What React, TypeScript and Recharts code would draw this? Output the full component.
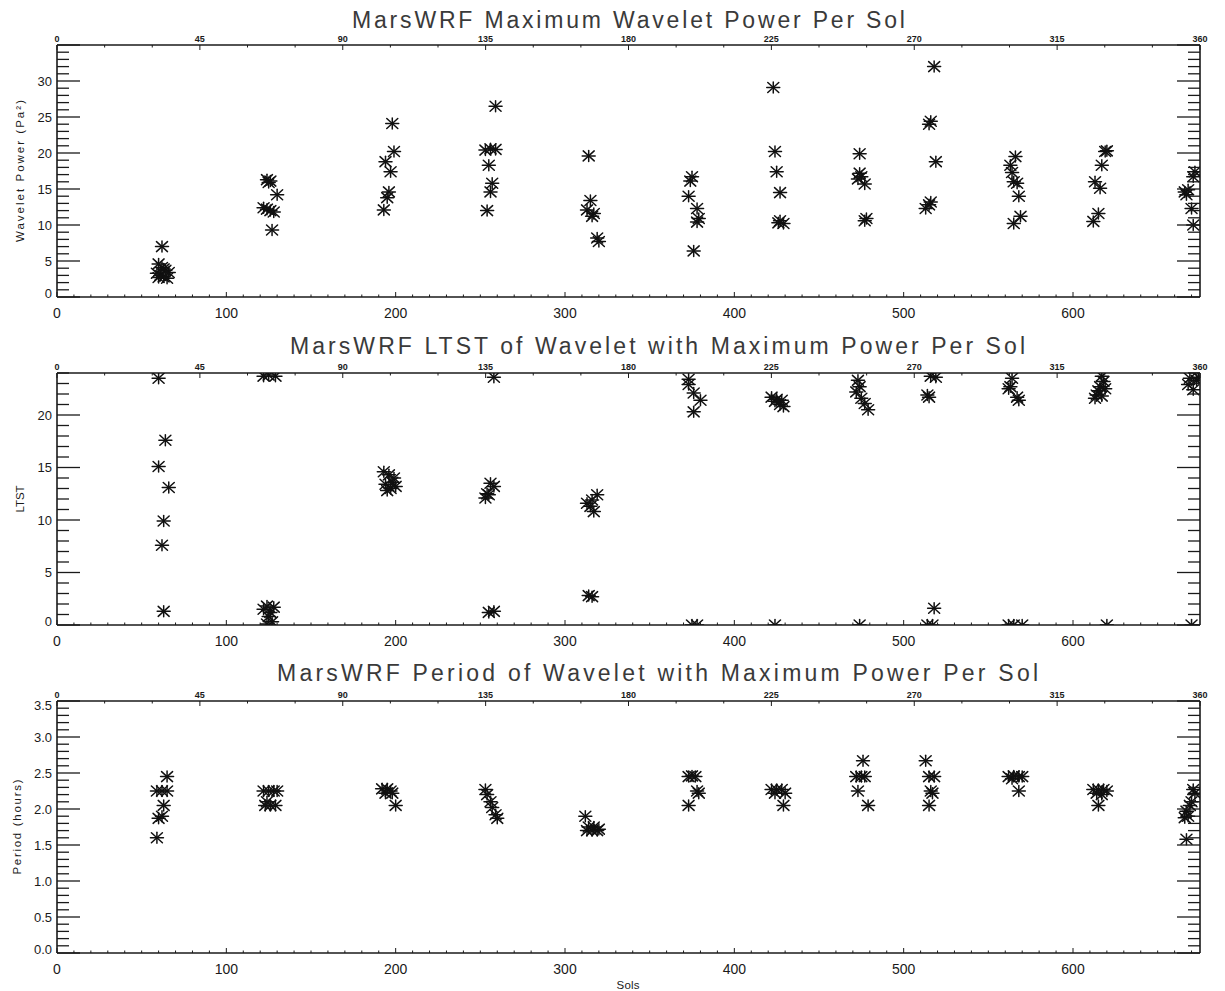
import React from 'react'
import { ScatterChart, Scatter, XAxis, YAxis } from 'recharts'

// Sol axis (bottom) and solar longitude axis (top)
const SOL_MAX = 675
const SOL_MAJOR = [0, 100, 200, 300, 400, 500, 600]
const LS_MAJOR = [0, 45, 90, 135, 180, 225, 270, 315, 360]

// [sol, maximum wavelet power (Pa^2)]
const powerPoints: [number, number][] = [
    [62, 7.0], [60, 4.6], [62, 4.1], [64, 3.7], [59, 3.3], [61, 3.0], [63, 2.8], [65, 2.6], [60, 2.7], [66, 3.4], [63, 3.9],
    [124, 16.3], [125, 15.9], [126, 16.1], [130, 14.2], [122, 12.4], [126, 12.0], [128, 11.8], [124, 12.2], [127, 9.3],
    [198, 24.1], [199, 20.2], [194, 18.8], [197, 17.4], [196, 14.6], [195, 13.8], [193, 12.1],
    [259, 26.5], [253, 20.4], [256, 20.6], [259, 20.5], [255, 18.3], [257, 15.8], [256, 14.6], [254, 12.0],
    [314, 19.6], [315, 13.4], [313, 12.1], [317, 11.6], [316, 11.2], [319, 8.2], [320, 7.7],
    [375, 16.7], [374, 16.1], [373, 14.0], [378, 12.3], [379, 10.9], [378, 10.4], [376, 6.4],
    [423, 29.1], [424, 20.2], [425, 17.4], [427, 14.5], [427, 10.6], [429, 10.2], [426, 10.3],
    [474, 19.9], [474, 17.2], [473, 16.4], [475, 16.7], [477, 15.7], [478, 10.9], [477, 10.6],
    [518, 32.0], [516, 24.4], [515, 24.0], [519, 18.8], [515, 12.8], [513, 12.3], [516, 13.2],
    [566, 19.5], [563, 18.3], [564, 17.3], [565, 16.0], [567, 15.8], [568, 14.0], [569, 11.2], [565, 10.2],
    [619, 20.2], [620, 20.3], [617, 18.3], [613, 16.0], [616, 15.1], [615, 11.6], [612, 10.5],
    [672, 17.4], [671, 16.7], [668, 14.9], [667, 14.2], [666, 14.6], [670, 12.3], [671, 10.0],
]

// [sol, local true solar time of the strongest wavelet]
const ltstPoints: [number, number][] = [
    [60, 23.5], [64, 17.6], [60, 15.1], [66, 13.1], [63, 9.9], [62, 7.6], [63, 1.3],
    [122, 23.7], [125, 23.8], [129, 23.7], [122, 1.5], [124, 1.8], [126, 1.2], [128, 1.7], [125, 0.8], [127, 0.3], [124, 0.1],
    [193, 14.6], [196, 14.3], [199, 14.0], [194, 13.4], [197, 13.0], [200, 13.2], [195, 12.8], [198, 13.6],
    [258, 23.6], [256, 13.5], [254, 12.5], [253, 12.1], [255, 12.4], [258, 13.2], [258, 1.3], [255, 1.2],
    [319, 12.4], [313, 11.6], [315, 11.3], [317, 10.8], [316, 11.9], [316, 2.7], [314, 2.8],
    [373, 22.9], [376, 22.1], [380, 21.4], [376, 20.3], [373, 23.4], [375, 0.0], [378, 0.0],
    [422, 21.7], [425, 21.5], [427, 21.0], [429, 20.8], [424, 21.3], [428, 21.4], [424, 0.0],
    [473, 23.3], [474, 22.7], [472, 22.2], [475, 21.6], [477, 21.1], [479, 20.5], [474, 0.0],
    [516, 23.7], [519, 23.6], [514, 21.9], [515, 21.7], [518, 1.6], [517, 0.0], [514, 0.0],
    [564, 23.5], [563, 22.7], [562, 22.5], [567, 21.7], [568, 21.4], [565, 0.0], [570, 0.0], [562, 0.0],
    [617, 23.7], [618, 23.2], [616, 22.7], [615, 22.3], [614, 21.9], [613, 21.6], [617, 21.8], [619, 22.5], [620, 0.0],
    [669, 23.5], [673, 23.3], [671, 22.4], [674, 23.6], [668, 22.9], [670, 0.0],
]

// [sol, period (hours) of the strongest wavelet]
const periodPoints: [number, number][] = [
    [65, 2.45], [59, 2.25], [62, 2.25], [65, 2.25], [63, 2.05], [62, 1.9], [60, 1.87], [59, 1.6],
    [122, 2.25], [125, 2.25], [128, 2.25], [130, 2.25], [123, 2.05], [126, 2.05], [129, 2.05], [124, 2.1],
    [192, 2.28], [195, 2.28], [197, 2.25], [194, 2.22], [198, 2.22], [200, 2.05],
    [253, 2.27], [254, 2.2], [256, 2.1], [257, 2.02], [259, 1.92], [260, 1.87],
    [312, 1.9], [314, 1.75], [317, 1.75], [320, 1.72], [313, 1.7], [316, 1.7], [319, 1.7],
    [373, 2.45], [375, 2.46], [377, 2.45], [378, 2.25], [379, 2.22], [373, 2.05],
    [422, 2.27], [425, 2.27], [428, 2.27], [430, 2.22], [424, 2.22], [429, 2.05],
    [476, 2.67], [472, 2.45], [475, 2.45], [477, 2.45], [473, 2.25], [479, 2.05],
    [513, 2.67], [515, 2.45], [518, 2.45], [516, 2.25], [517, 2.22], [515, 2.05],
    [562, 2.45], [565, 2.46], [568, 2.45], [570, 2.45], [564, 2.42], [568, 2.25],
    [612, 2.27], [615, 2.27], [618, 2.27], [620, 2.25], [614, 2.22], [617, 2.2], [615, 2.05],
    [671, 2.27], [672, 2.22], [670, 2.1], [667, 1.97], [668, 1.9], [666, 1.88], [669, 2.05], [667, 1.58],
]

const POWER_LABELS = [0, 5, 10, 15, 20, 25, 30]
const LTST_LABELS = [0, 5, 10, 15, 20]
const PERIOD_LABELS = [0, 0.5, 1, 1.5, 2, 2.5, 3, 3.5]

const INK = '#1a1a1a'
const FONT = '"Liberation Sans", Arial, sans-serif'
const PLOT_TOP = 45
const PLOT_BOTTOM = 297

const steps = (max: number, step: number) => {
    const out: number[] = []
    for (let i = 0; i * step <= max + 1e-9; i++) out.push(+(i * step).toFixed(4))
    return out
}
const isMultiple = (v: number, m: number) => Math.abs(v / m - Math.round(v / m)) < 1e-6

const solTicks = steps(SOL_MAX, 10)
const lsTicks = steps(360, 15)
// the Ls axis carries no marks of its own; its two end points anchor the top/right axes
const lsFrame = [{ ls: 0, r: 0 }, { ls: 360, r: 0 }]

// IDL-style asterisk symbol
const Asterisk = (props: any) => {
    const { cx, cy } = props
    if (cx == null || cy == null) return null
    return (
        <g stroke="#111" strokeWidth={1.5} strokeLinecap="round">
            <line x1={cx - 6.5} y1={cy} x2={cx + 6.5} y2={cy} />
            <line x1={cx} y1={cy - 5.5} x2={cx} y2={cy + 5.5} />
            <line x1={cx - 5.5} y1={cy - 5} x2={cx + 5.5} y2={cy + 5} />
            <line x1={cx - 5.5} y1={cy + 5} x2={cx + 5.5} y2={cy - 5} />
        </g>
    )
}
const NoMark = () => <g />

interface PanelProps {
    title: string
    titleX: number
    titleLen: number
    titleY: number
    yLabel: string
    yLabelLen: number
    yLabelX: number
    points: [number, number][]
    yMax: number
    yMinor: number
    yMajor: number
    yLabels: number[]
    decimals: number
    height: number
    xLabel?: string
}

function Panel({ title, titleX, titleLen, titleY, yLabel, yLabelLen, yLabelX, points, yMax, yMinor, yMajor, yLabels, decimals, height, xLabel }: PanelProps) {
    const data = points.map(([sol, v]) => ({ sol, v }))
    const yTicks = steps(yMax, yMinor)
    const axisLine = { stroke: INK, strokeWidth: 1.6 }

    const bottomTick = (p: any) => {
        const major = SOL_MAJOR.includes(p.payload.value)
        return (
            <g>
                <line x1={p.x} x2={p.x} y1={p.y} y2={p.y - (major ? 5 : 2.5)} stroke={INK} strokeWidth={1} />
                {major && (
                    <text x={p.x} y={p.y + 21} textAnchor="middle" fontSize={14} fontFamily={FONT} fill={INK}>
                        {p.payload.value}
                    </text>
                )}
            </g>
        )
    }

    const topTick = (p: any) => {
        const major = LS_MAJOR.includes(p.payload.value)
        return (
            <g>
                <line x1={p.x} x2={p.x} y1={p.y} y2={p.y + (major ? 5 : 2.5)} stroke={INK} strokeWidth={1} />
                {major && (
                    <text x={p.x} y={p.y - 3} textAnchor="middle" fontSize={9} fontWeight="bold" fontFamily={FONT} fill={INK}>
                        {p.payload.value}
                    </text>
                )}
            </g>
        )
    }

    const leftTick = (p: any) => {
        const v = p.payload.value
        const major = isMultiple(v, yMajor)
        const labelled = yLabels.some((l) => Math.abs(l - v) < 1e-6)
        const nudge = v === 0 ? -3.5 : Math.abs(v - yMax) < 1e-6 ? 4.5 : 0
        return (
            <g>
                <line x1={p.x} x2={p.x + (major ? 23 : 12)} y1={p.y} y2={p.y} stroke={INK} strokeWidth={1.3} />
                {labelled && (
                    <text x={p.x - 5} y={p.y + nudge} dy="0.36em" textAnchor="end" fontSize={13} fontFamily={FONT} fill={INK}>
                        {v.toFixed(decimals)}
                    </text>
                )}
            </g>
        )
    }

    const rightTick = (p: any) => {
        const major = isMultiple(p.payload.value, yMajor)
        return <line x1={p.x} x2={p.x - (major ? 23 : 12)} y1={p.y} y2={p.y} stroke={INK} strokeWidth={1.3} />
    }

    const plotMid = (PLOT_TOP + PLOT_BOTTOM) / 2

    return (
        <ScatterChart width={1225} height={height} margin={{ top: 0, right: 0, bottom: 0, left: 0 }}>
            <XAxis
                xAxisId="sol"
                dataKey="sol"
                type="number"
                domain={[0, SOL_MAX]}
                ticks={solTicks}
                interval={0}
                tickSize={0}
                tickMargin={0}
                tickLine={false}
                height={height - PLOT_BOTTOM}
                axisLine={axisLine}
                tick={bottomTick}
                allowDataOverflow
            />
            <XAxis
                xAxisId="ls"
                dataKey="ls"
                orientation="top"
                type="number"
                domain={[0, 360]}
                ticks={lsTicks}
                interval={0}
                tickSize={0}
                tickMargin={0}
                tickLine={false}
                height={PLOT_TOP}
                axisLine={axisLine}
                tick={topTick}
                allowDataOverflow
            />
            <YAxis
                yAxisId="left"
                dataKey="v"
                type="number"
                domain={[0, yMax]}
                ticks={yTicks}
                interval={0}
                tickSize={0}
                tickMargin={0}
                tickLine={false}
                width={57}
                axisLine={axisLine}
                tick={leftTick}
                allowDataOverflow
            />
            <YAxis
                yAxisId="right"
                dataKey="r"
                orientation="right"
                type="number"
                domain={[0, yMax]}
                ticks={yTicks}
                interval={0}
                tickSize={0}
                tickMargin={0}
                tickLine={false}
                width={25}
                axisLine={axisLine}
                tick={rightTick}
                allowDataOverflow
            />
            <Scatter xAxisId="sol" yAxisId="left" data={data} shape={Asterisk} isAnimationActive={false} />
            <Scatter xAxisId="ls" yAxisId="right" data={lsFrame} shape={NoMark} isAnimationActive={false} />
            <text
                x={titleX}
                y={titleY}
                textLength={titleLen}
                lengthAdjust="spacing"
                fontSize={23}
                fontFamily={FONT}
                fill="#3a3a3a"
            >
                {title}
            </text>
            <text
                transform={`translate(${yLabelX},${plotMid}) rotate(-90)`}
                textAnchor="middle"
                dy="0.35em"
                textLength={yLabelLen}
                lengthAdjust="spacing"
                fontSize={11.5}
                fontFamily={FONT}
                fill={INK}
            >
                {yLabel}
            </text>
            {xLabel && (
                <text x={628} y={height - 2} textAnchor="middle" textLength={23} fontSize={11.5} fontFamily={FONT} fill={INK}>
                    {xLabel}
                </text>
            )}
        </ScatterChart>
    )
}

export default function App() {
    return (
        <div style={{ position: 'absolute', left: 0, top: 0, width: 1225, height: 991, background: '#fff' }}>
            <Panel
                title="MarsWRF Maximum Wavelet Power Per Sol"
                titleX={352}
                titleLen={553}
                titleY={28}
                yLabel="Wavelet Power (Pa²)"
                yLabelLen={142}
                yLabelX={20}
                points={powerPoints}
                yMax={35}
                yMinor={1}
                yMajor={5}
                yLabels={POWER_LABELS}
                decimals={0}
                height={328}
            />
            <Panel
                title="MarsWRF LTST of Wavelet with Maximum Power Per Sol"
                titleX={290}
                titleLen={735}
                titleY={26}
                yLabel="LTST"
                yLabelLen={27}
                yLabelX={20}
                points={ltstPoints}
                yMax={24}
                yMinor={1}
                yMajor={5}
                yLabels={LTST_LABELS}
                decimals={0}
                height={328}
            />
            <Panel
                title="MarsWRF Period of Wavelet with Maximum Power Per Sol"
                titleX={277}
                titleLen={761}
                titleY={25}
                yLabel="Period (hours)"
                yLabelLen={95}
                yLabelX={17}
                points={periodPoints}
                yMax={3.5}
                yMinor={0.1}
                yMajor={0.5}
                yLabels={PERIOD_LABELS}
                decimals={1}
                height={335}
                xLabel="Sols"
            />
        </div>
    )
}
